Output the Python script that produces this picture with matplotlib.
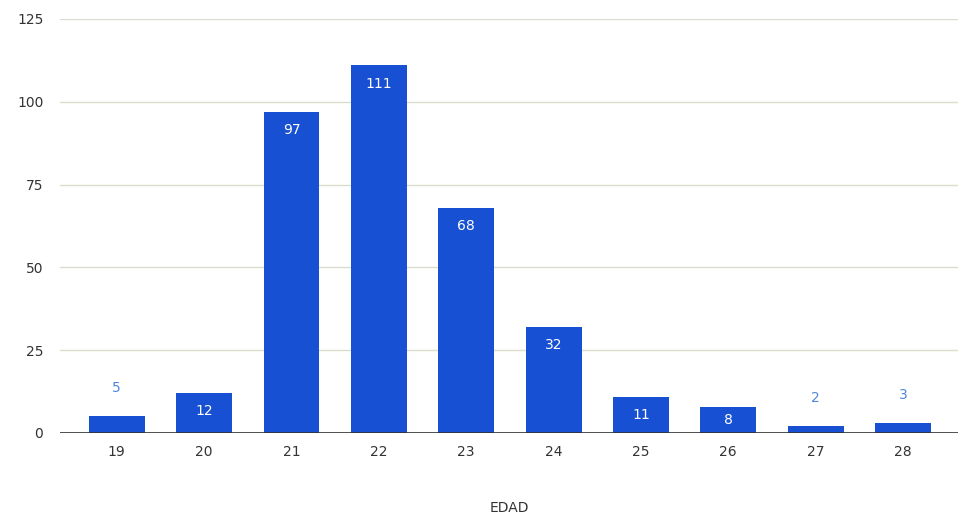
import matplotlib.pyplot as plt

edades = ['19', '20', '21', '22', '23', '24', '25', '26', '27', '28']
conteos = [5, 12, 97, 111, 68, 32, 11, 8, 2, 3]
yticks = [0, 25, 50, 75, 100, 125]

azul = '#1850d4'
fig = plt.figure(figsize=(9.59, 5.15), dpi=100)
ax = fig.add_axes([60 / 959, 82 / 515, 898 / 959, 414 / 515])

x = range(len(edades))
ax.bar(x, conteos, width=0.64, color=azul, zorder=3)

# values: inside the bar when there is room, above it otherwise
for i, v in zip(x, conteos):
    if v >= 8:
        dy = 5.5 if v > 10 else 4
        ax.text(i, v - dy, str(v), ha='center', va='center', color='white', fontsize=10, zorder=4)
    else:
        ax.text(i, v + 8.5, str(v), ha='center', va='center', color='#4f86e0', fontsize=10, zorder=4)

ax.set_xlim(-0.65, 9.63)
ax.set_ylim(0, 125)
ax.set_yticks(yticks)
ax.set_xticks(list(x))
ax.set_xticklabels(edades)
ax.grid(axis='y', color='#dcdccc', linewidth=1, zorder=0)
ax.axhline(0, color='#333333', linewidth=1.2, zorder=5)
for s in ax.spines.values():
    s.set_visible(False)
ax.tick_params(length=0, labelsize=10, colors='#333333')
ax.tick_params(axis='y', pad=12)
ax.tick_params(axis='x', pad=9)
ax.set_xlabel('EDAD', fontsize=10, color='#333333', labelpad=30)

fig.savefig('out.png', dpi=100)
